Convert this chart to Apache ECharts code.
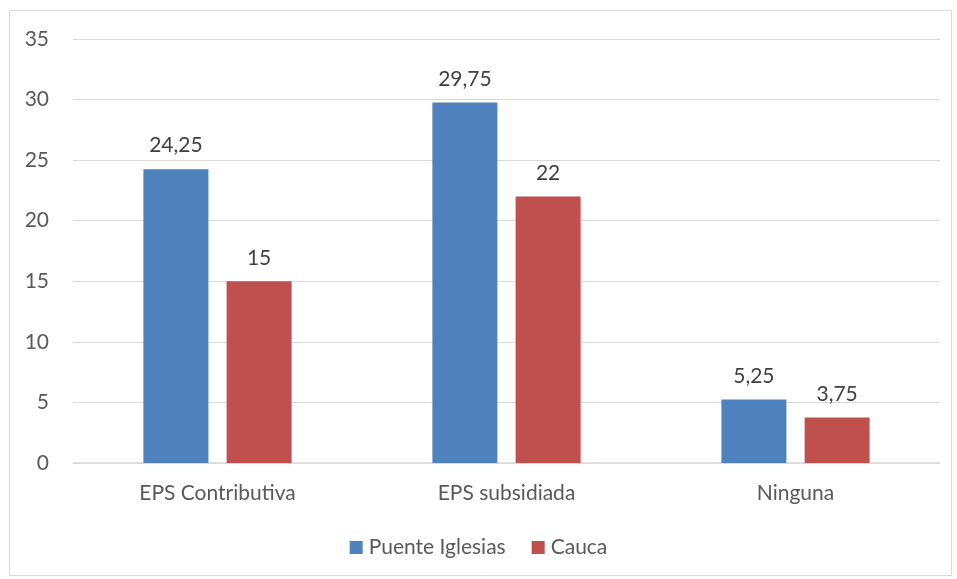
<!DOCTYPE html>
<html>
<head>
<meta charset="utf-8">
<script src="https://cdn.jsdelivr.net/npm/echarts@6/dist/echarts.min.js"></script>
<style>
  html, body { margin: 0; padding: 0; background: #fff; }
  #chart { width: 957px; height: 579px; }
</style>
</head>
<body>
<div id="chart"></div>
<script>
var categorias = ['EPS Contributiva', 'EPS subsidiada', 'Ninguna'];
var puenteIglesias = [24.25, 29.75, 5.25];
var cauca = [15, 22, 3.75];
var nombres = ['Puente Iglesias', 'Cauca'];

var txt = '#595959';
var fuente = 'Lato, "Open Sans", sans-serif';
var tam = 21;

// etiqueta con coma decimal
function coma(p) {
    return String(p.value).replace('.', ',');
}

var chart = echarts.init(document.getElementById('chart'));
var option = {
    animation: false,
    textStyle: { fontFamily: fuente },
    graphic: [{
        type: 'rect',
        shape: { x: 9.5, y: 10.5, width: 942, height: 565 },
        style: { fill: 'none', stroke: '#d9d9d9', lineWidth: 1 },
        silent: true
    }],
    grid: { left: 73, right: 17, top: 39, bottom: 116 },
    legend: {
        bottom: 16,
        left: 'center',
        itemWidth: 13,
        itemHeight: 13,
        itemGap: 26,
        icon: 'rect',
        textStyle: { color: txt, fontSize: tam, fontFamily: fuente, padding: [0, 0, 0, 1] },
        data: nombres
    },
    xAxis: {
        type: 'category',
        data: categorias,
        axisLine: { lineStyle: { color: '#d9d9d9', width: 1.5 } },
        axisTick: { show: false },
        axisLabel: { color: txt, fontSize: tam, margin: 20, fontFamily: fuente }
    },
    yAxis: {
        type: 'value',
        min: 0,
        max: 35,
        interval: 5,
        axisLine: { show: false },
        axisTick: { show: false },
        axisLabel: { color: txt, fontSize: tam, margin: 24, fontFamily: fuente },
        splitLine: { lineStyle: { color: '#d9d9d9', width: 1.2 } }
    },
    series: [{
        name: nombres[0],
        type: 'bar',
        data: puenteIglesias,
        barWidth: 65,
        barGap: '28%',
        itemStyle: { color: '#4f81bd' },
        label: { show: true, position: 'top', distance: 13, color: '#404040', fontSize: tam, formatter: coma, fontFamily: fuente }
    }, {
        name: nombres[1],
        type: 'bar',
        data: cauca,
        barWidth: 65,
        itemStyle: { color: '#c0504d' },
        label: { show: true, position: 'top', distance: 13, color: '#404040', fontSize: tam, formatter: coma, fontFamily: fuente }
    }]
};
chart.setOption(option);
</script>
</body>
</html>
